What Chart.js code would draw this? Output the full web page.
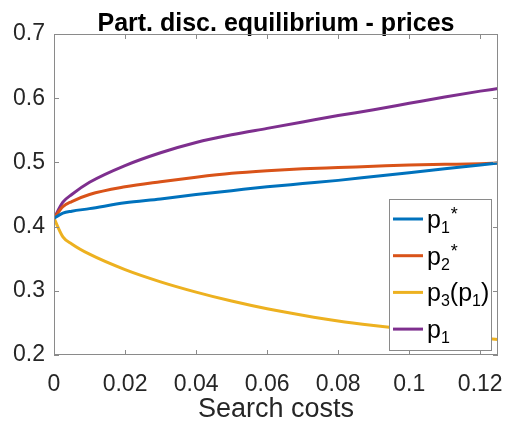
<!DOCTYPE html>
<html><head><meta charset="utf-8">
<script src="https://cdn.jsdelivr.net/npm/chart.js@4/dist/chart.umd.min.js"></script>
<style>html,body{margin:0;padding:0;background:#fff}</style>
</head><body>
<canvas id="c" width="508" height="430"></canvas>
<script>
// ---- data ----
const searchCosts = [0, 0.0025, 0.005, 0.01, 0.02, 0.03, 0.04, 0.05, 0.06, 0.07, 0.08, 0.09, 0.1, 0.11, 0.12, 0.125];
const p1Star  = [0.413, 0.421, 0.424, 0.428, 0.437, 0.443, 0.450, 0.456, 0.462, 0.467, 0.472, 0.478, 0.484, 0.490, 0.496, 0.499];
const p2Star  = [0.413, 0.431, 0.439, 0.450, 0.462, 0.470, 0.477, 0.483, 0.487, 0.490, 0.492, 0.494, 0.496, 0.497, 0.498, 0.499];
const p3OfP1  = [0.413, 0.384, 0.373, 0.357, 0.333, 0.314, 0.298, 0.284, 0.272, 0.262, 0.253, 0.246, 0.240, 0.233, 0.227, 0.224];
const p1      = [0.413, 0.438, 0.450, 0.469, 0.495, 0.515, 0.531, 0.543, 0.553, 0.563, 0.573, 0.582, 0.592, 0.602, 0.611, 0.615];
const seriesLabels = ['p_1^*', 'p_2^*', 'p_3(p_1)', 'p_1'];
const seriesColors = ['#0072BD', '#D95319', '#EDB120', '#7E2F8E'];
const xTicks = [0, 0.02, 0.04, 0.06, 0.08, 0.1, 0.12];
const yTicks = [0.2, 0.3, 0.4, 0.5, 0.6, 0.7];
const titleText = 'Part. disc. equilibrium - prices';
const xLabel = 'Search costs';

const FONT = "'Liberation Sans', Arial, Helvetica, sans-serif";
const AXIS_COLOR = '#8a8a8a';
const TEXT_COLOR = '#262626';

function toPoints(ys) { return searchCosts.map((x, i) => ({x, y: ys[i]})); }
const seriesValues = [p1Star, p2Star, p3OfP1, p1];

function parseLabel(s) {
  const parts = [];
  for (let i = 0; i < s.length; i++) {
    const ch = s[i];
    if (ch === '_' && i + 1 < s.length) { parts.push({t: s[++i], k: 'sub'}); }
    else if (ch === '^' && i + 1 < s.length) { parts.push({t: s[++i], k: 'sup'}); }
    else parts.push({t: ch, k: 'n'});
  }
  return parts;
}

const boxPlugin = {
  id: 'matlabBox',
  afterDatasetsDraw(chart) {
    const {ctx, chartArea: a, scales} = chart;
    ctx.save();
    ctx.strokeStyle = AXIS_COLOR;
    ctx.lineWidth = 1;
    ctx.strokeRect(Math.round(a.left) + 0.5, Math.round(a.top) + 0.5,
                   Math.round(a.right - a.left) - 1, Math.round(a.bottom - a.top) - 1);
    const tl = 5;
    ctx.beginPath();
    xTicks.forEach(v => {
      const px = Math.round(scales.x.getPixelForValue(v)) + 0.5;
      ctx.moveTo(px, a.bottom); ctx.lineTo(px, a.bottom - tl);
      ctx.moveTo(px, a.top); ctx.lineTo(px, a.top + tl);
    });
    yTicks.forEach(v => {
      const py = Math.round(scales.y.getPixelForValue(v)) + 0.5;
      ctx.moveTo(a.left, py); ctx.lineTo(a.left + tl, py);
      ctx.moveTo(a.right, py); ctx.lineTo(a.right - tl, py);
    });
    ctx.stroke();

    // legend (inside, lower right)
    const lw = 102, lh = 151;
    const lx = Math.round(a.right - 7 - lw), ly = Math.round(a.bottom - 5 - lh);
    ctx.fillStyle = '#fff';
    ctx.fillRect(lx, ly, lw, lh);
    ctx.strokeStyle = AXIS_COLOR;
    ctx.lineWidth = 1;
    ctx.strokeRect(lx + 0.5, ly + 0.5, lw, lh);
    chart.data.datasets.forEach((ds, i) => {
      const cy = ly + 20 + i * 36.7;
      ctx.strokeStyle = ds.borderColor;
      ctx.lineWidth = 3;
      ctx.beginPath();
      ctx.moveTo(lx + 4, cy); ctx.lineTo(lx + 34, cy);
      ctx.stroke();
      let tx = lx + 38;
      const base = cy + 9;
      ctx.fillStyle = '#000';
      ctx.textBaseline = 'alphabetic';
      ctx.textAlign = 'left';
      parseLabel(ds.label).forEach(p => {
        let y = base;
        if (p.k === 'n') ctx.font = '25px ' + FONT;
        else if (p.k === 'sub') { ctx.font = '16px ' + FONT; y = base + 5; }
        else { ctx.font = '18px ' + FONT; y = base - 8; tx += 1; }
        ctx.fillText(p.t, tx, y);
        tx += ctx.measureText(p.t).width;
      });
    });
    ctx.restore();
  }
};

new Chart(document.getElementById('c'), {
  type: 'line',
  data: {
    datasets: seriesLabels.map((lab, i) => ({
      label: lab,
      data: toPoints(seriesValues[i]),
      borderColor: seriesColors[i],
      backgroundColor: seriesColors[i],
      borderWidth: 3,
      pointRadius: 0,
      fill: false,
      cubicInterpolationMode: 'monotone'
    }))
  },
  options: {
    responsive: false,
    animation: false,
    devicePixelRatio: 1,
    layout: {padding: {left: 0, right: 10, top: 0, bottom: 0}},
    plugins: {
      legend: {display: false},
      tooltip: {enabled: false},
      title: {
        display: true, text: titleText, fullSize: false, color: '#000',
        font: {family: FONT, size: 25, weight: 'bold', lineHeight: 0.76},
        padding: {top: 15, bottom: 0}
      }
    },
    scales: {
      x: {
        type: 'linear', min: 0, max: 0.125,
        grid: {display: false, drawTicks: false}, border: {display: false},
        afterBuildTicks: s => { s.ticks = xTicks.map(v => ({value: v})); },
        afterFit: s => { s.height = 75; s.paddingLeft = 0; s.paddingRight = 0; },
        ticks: {font: {family: FONT, size: 23}, color: TEXT_COLOR, padding: 16, maxRotation: 0, autoSkip: false,
                callback: v => String(v)},
        title: {display: true, text: xLabel, color: TEXT_COLOR, font: {family: FONT, size: 27}, padding: {top: 0, bottom: 4}}
      },
      y: {
        type: 'linear', min: 0.2, max: 0.7,
        grid: {display: false, drawTicks: false}, border: {display: false},
        afterBuildTicks: s => { s.ticks = yTicks.map(v => ({value: v})); },
        afterFit: s => { s.width = 54; },
        ticks: {font: {family: FONT, size: 23}, color: TEXT_COLOR, padding: 9, autoSkip: false,
                callback: v => String(v)}
      }
    }
  },
  plugins: [boxPlugin]
});
</script>
</body></html>
